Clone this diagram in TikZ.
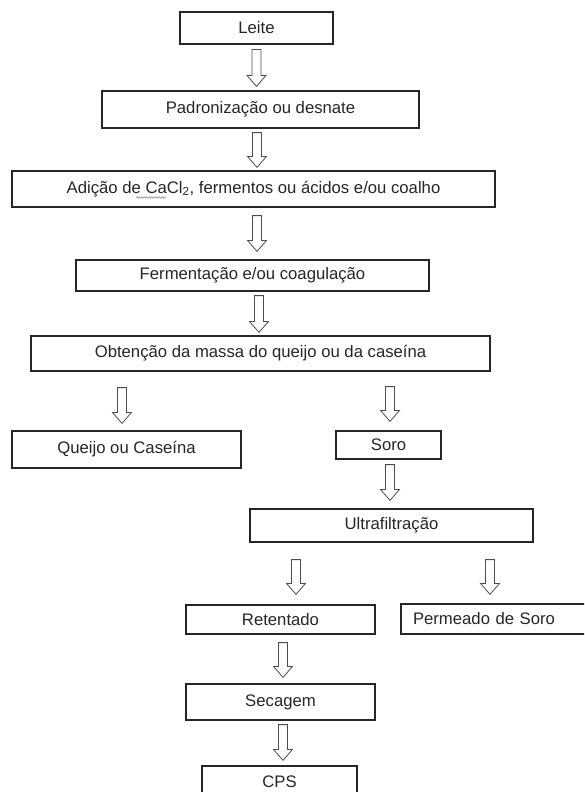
\documentclass[tikz,border=0pt]{standalone}
\usepackage{fontspec}
\setmainfont{Liberation Sans}
\usepackage{xcolor}
\usetikzlibrary{calc,decorations.pathmorphing}

% hollow block arrow: x, from node, to node, top gap, bottom gap
\newcommand{\flowarr}[5]{%
  \draw[flow] let \p1=(#1,0 |- #2.south), \p2=(#1,0 |- #3.north) in
    (\x1-4.5pt,\y1-#4pt) -- (\x1-4.5pt,\y2+#5pt+11pt) -- (\x1-9.5pt,\y2+#5pt+11pt)
    -- (\x1,\y2+#5pt) -- (\x1+9.5pt,\y2+#5pt+11pt) -- (\x1+4.5pt,\y2+#5pt+11pt)
    -- (\x1+4.5pt,\y1-#4pt) -- cycle;}

\begin{document}
\begin{tikzpicture}[x=1pt,y=-1pt,
  every node/.style={font=\fontsize{16.7}{20}\selectfont,text=black!85},
  box/.style={draw=black!85,line width=1.2pt,inner sep=3pt},
  flow/.style={draw=black!70,line width=0.8pt,line join=miter},
  squiggle/.style={draw=gray,line width=0.5pt,decorate,decoration={snake,amplitude=0.8pt,segment length=2.5pt}}
]
  \useasboundingbox (0,0) rectangle (584,792);
  \clip (0,0) rectangle (584,792);
  \node[box,minimum width=153,minimum height=32] (leite) at (256.5,28) {Leite};
  \node[box,minimum width=317,minimum height=37] (padr) at (260.5,109.5) {Padronização ou desnate};
  \node[box,minimum width=483,minimum height=36] (adicao) at (253.5,189) {Adição de CaCl\textsubscript{2}, fermentos ou ácidos e/ou coalho};
  \node[box,minimum width=353,minimum height=31] (ferm) at (252.5,275.5) {Fermentação e/ou coagulação};
  \node[box,minimum width=459,minimum height=35] (obt) at (260.5,353.5) {Obtenção da massa do queijo ou da caseína};
  \node[box,minimum width=229,minimum height=37] (queijo) at (126.5,449.5) {Queijo ou Caseína};
  \node[box,minimum width=105,minimum height=28] (soro) at (388.5,445) {Soro};
  \node[box,minimum width=283,minimum height=33] (ultra) at (391.5,525.5) {Ultrafiltração};
  \node[box,minimum width=189,minimum height=29] (ret) at (280.5,619.5) {Retentado};
  \node[box,minimum width=200,minimum height=30,text width=176,align=left] (perm) at (501,619) {Permeado de Soro};
  \node[box,minimum width=189,minimum height=36] (sec) at (280.5,702) {Secagem};
  \node[box,minimum width=155,minimum height=32] (cps) at (279.5,782) {CPS};

  % spell-check mark under CaCl2
  \draw[squiggle] (136,197.5) -- (166,197.5);

  \flowarr{256.5}{leite}{padr}{5}{4}
  \flowarr{257}{padr}{adicao}{4}{3}
  \flowarr{257}{adicao}{ferm}{8}{8}
  \flowarr{259}{ferm}{obt}{4}{3}
  \flowarr{122}{obt}{queijo}{16}{7}
  \flowarr{390}{obt}{soro}{15}{9}
  \flowarr{390}{soro}{ultra}{5}{8}
  \flowarr{296}{ultra}{ret}{17}{10}
  \flowarr{490}{ultra}{perm}{17}{9}
  \flowarr{283}{ret}{sec}{8}{6}
  \flowarr{283}{sec}{cps}{4}{5}
\end{tikzpicture}
\end{document}
